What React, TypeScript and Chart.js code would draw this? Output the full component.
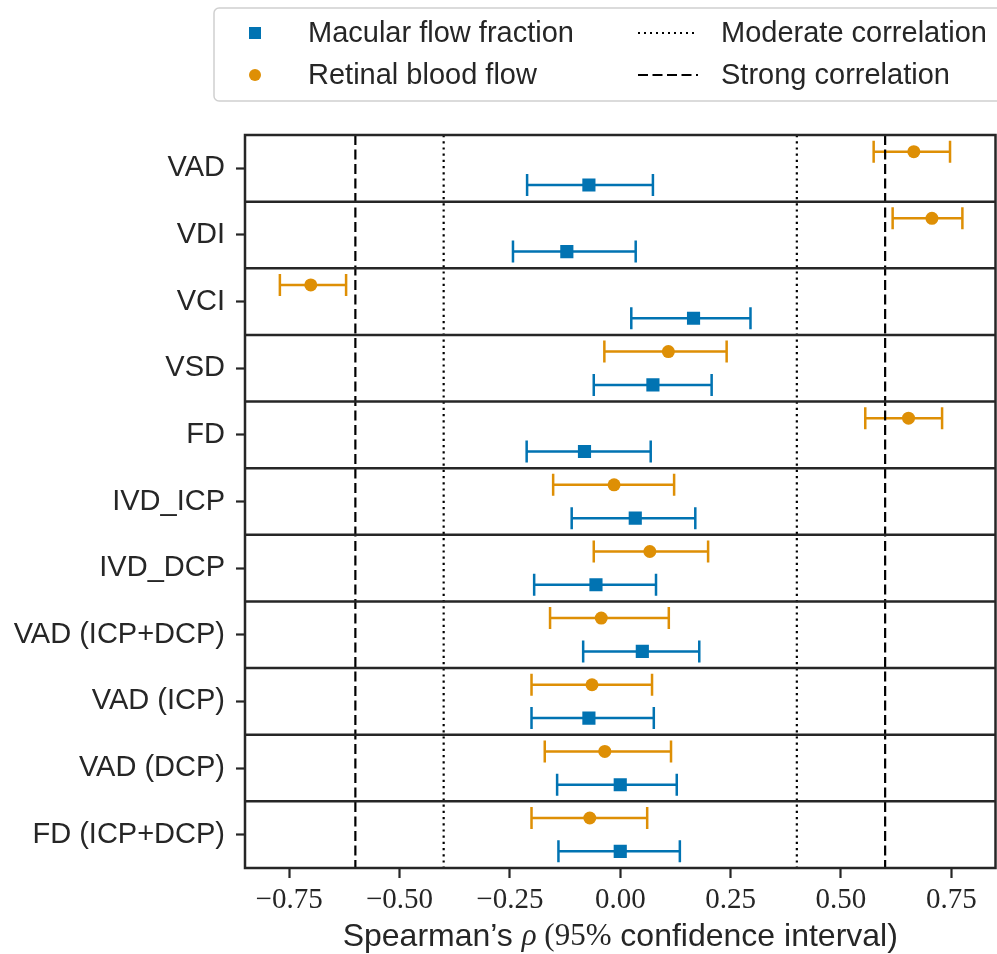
import React, { useEffect, useRef } from 'react';
import { Chart, registerables } from 'chart.js';

Chart.register(...registerables);

const categories = ['VAD', 'VDI', 'VCI', 'VSD', 'FD', 'IVD_ICP', 'IVD_DCP', 'VAD (ICP+DCP)', 'VAD (ICP)', 'VAD (DCP)', 'FD (ICP+DCP)'];
const mffRho = [-0.071, -0.121, 0.166, 0.074, -0.081, 0.034, -0.055, 0.050, -0.071, 0.000, 0.000];
const mffLo = [-0.211, -0.243, 0.025, -0.060, -0.212, -0.110, -0.195, -0.084, -0.201, -0.143, -0.140];
const mffHi = [0.074, 0.035, 0.295, 0.207, 0.069, 0.170, 0.081, 0.179, 0.076, 0.128, 0.135];
const rbfRho = [0.665, 0.706, -0.701, 0.109, 0.653, -0.014, 0.067, -0.043, -0.064, -0.035, -0.069];
const rbfLo = [0.574, 0.617, -0.771, -0.036, 0.555, -0.152, -0.060, -0.159, -0.201, -0.171, -0.201];
const rbfHi = [0.747, 0.775, -0.621, 0.241, 0.729, 0.122, 0.199, 0.110, 0.072, 0.115, 0.061];
const xTicks = [-0.75, -0.5, -0.25, 0, 0.25, 0.5, 0.75];
const moderateLines = [-0.4, 0.4];
const strongLines = [-0.6, 0.6];
const seriesLabels = ['Macular flow fraction', 'Retinal blood flow'];
const refLabels = ['Moderate correlation', 'Strong correlation'];

const BLUE = '#0173b2';
const ORANGE = '#de8f05';
const INK = '#262626';
const SANS = '"Liberation Sans", Arial, sans-serif';
const SERIF = '"Liberation Serif", "Times New Roman", serif';

export default function App() {
  const ref = useRef<HTMLCanvasElement>(null);

  useEffect(() => {
    const canvas = ref.current!;
    const off = 0.25;
    const series = [
      { label: seriesLabels[0], rho: mffRho, lo: mffLo, hi: mffHi, color: BLUE, off: off, style: 'rect', r: 9.3 },
      { label: seriesLabels[1], rho: rbfRho, lo: rbfLo, hi: rbfHi, color: ORANGE, off: -off, style: 'circle', r: 6.5 },
    ];

    const fmt = (v: number) => (v < 0 ? '\u2212' : '') + Math.abs(v).toFixed(2);

    const decor = {
      id: 'decor',
      beforeDatasetsDraw(chart: any) {
        const { ctx, scales: { x, y } } = chart;
        ctx.save();
        series.forEach((s) => {
          ctx.strokeStyle = s.color;
          ctx.lineWidth = 2.5;
          s.lo.forEach((lo, i) => {
            const yy = y.getPixelForValue(i + s.off);
            const x1 = x.getPixelForValue(lo);
            const x2 = x.getPixelForValue(s.hi[i]);
            ctx.beginPath();
            ctx.moveTo(x1, yy); ctx.lineTo(x2, yy);
            ctx.moveTo(x1, yy - 11); ctx.lineTo(x1, yy + 11);
            ctx.moveTo(x2, yy - 11); ctx.lineTo(x2, yy + 11);
            ctx.stroke();
          });
        });
        ctx.restore();
      },
      afterDatasetsDraw(chart: any) {
        const { ctx, chartArea: a, scales: { x, y } } = chart;
        ctx.save();
        ctx.strokeStyle = '#000';
        ctx.lineWidth = 2.2;
        ctx.setLineDash([2.2, 4]);
        moderateLines.forEach((v) => {
          const px = x.getPixelForValue(v);
          ctx.beginPath(); ctx.moveTo(px, a.top); ctx.lineTo(px, a.bottom); ctx.stroke();
        });
        ctx.setLineDash([10, 4.5]);
        strongLines.forEach((v) => {
          const px = x.getPixelForValue(v);
          ctx.beginPath(); ctx.moveTo(px, a.top); ctx.lineTo(px, a.bottom); ctx.stroke();
        });
        ctx.setLineDash([]);
        ctx.strokeStyle = INK;
        ctx.lineWidth = 2.5;
        for (let i = 0; i < categories.length - 1; i++) {
          const py = y.getPixelForValue(i + 0.5);
          ctx.beginPath(); ctx.moveTo(a.left, py); ctx.lineTo(a.right, py); ctx.stroke();
        }
        ctx.strokeRect(a.left, a.top, a.right - a.left, a.bottom - a.top);
        ctx.restore();
      },
      afterDraw(chart: any) {
        const { ctx } = chart;
        ctx.save();
        const bx = 214, by = 8, bw = 800, bh = 93, rr = 5;
        ctx.beginPath();
        ctx.moveTo(bx + rr, by);
        ctx.lineTo(bx + bw - rr, by);
        ctx.arcTo(bx + bw, by, bx + bw, by + rr, rr);
        ctx.lineTo(bx + bw, by + bh - rr);
        ctx.arcTo(bx + bw, by + bh, bx + bw - rr, by + bh, rr);
        ctx.lineTo(bx + rr, by + bh);
        ctx.arcTo(bx, by + bh, bx, by + bh - rr, rr);
        ctx.lineTo(bx, by + rr);
        ctx.arcTo(bx, by, bx + rr, by, rr);
        ctx.closePath();
        ctx.fillStyle = 'rgba(255,255,255,0.85)';
        ctx.fill();
        ctx.strokeStyle = '#d0d0d0';
        ctx.lineWidth = 1.5;
        ctx.stroke();

        const rowsY = [33, 75];
        ctx.font = '29px ' + SANS;
        ctx.textBaseline = 'middle';
        ctx.textAlign = 'left';
        ctx.fillStyle = BLUE;
        ctx.fillRect(255 - 6, rowsY[0] - 6, 12, 12);
        ctx.fillStyle = ORANGE;
        ctx.beginPath(); ctx.arc(255, rowsY[1], 6, 0, Math.PI * 2); ctx.fill();
        ctx.fillStyle = INK;
        seriesLabels.forEach((t, i) => ctx.fillText(t, 308, rowsY[i] + 1));
        ctx.strokeStyle = '#000';
        ctx.lineWidth = 2;
        ctx.setLineDash([2, 4]);
        ctx.beginPath(); ctx.moveTo(638, rowsY[0]); ctx.lineTo(698, rowsY[0]); ctx.stroke();
        ctx.setLineDash([10, 4.5]);
        ctx.beginPath(); ctx.moveTo(638, rowsY[1]); ctx.lineTo(698, rowsY[1]); ctx.stroke();
        ctx.setLineDash([]);
        refLabels.forEach((t, i) => ctx.fillText(t, 721, rowsY[i] + 1));

        const segs = [
          { t: 'Spearman\u2019s ', f: '32px ' + SANS },
          { t: '\u03c1', f: 'italic 31px ' + SERIF },
          { t: ' (95%', f: '31px ' + SERIF },
          { t: ' confidence interval)', f: '32px ' + SANS },
        ];
        let total = 0;
        segs.forEach((s) => { ctx.font = s.f; total += ctx.measureText(s.t).width; });
        let cx = chart.scales.x.getPixelForValue(0) - total / 2;
        const ty = 937;
        ctx.fillStyle = INK;
        ctx.textBaseline = 'middle';
        segs.forEach((s) => {
          ctx.font = s.f;
          ctx.fillText(s.t, cx, ty);
          cx += ctx.measureText(s.t).width;
        });
        ctx.restore();
      },
    };

    const chart = new Chart(canvas, {
      type: 'scatter',
      data: {
        datasets: series.map((s) => ({
          label: s.label,
          data: s.rho.map((v, i) => ({ x: v, y: i + s.off })),
          pointStyle: s.style as any,
          pointRadius: s.r,
          pointHoverRadius: s.r,
          backgroundColor: s.color,
          borderColor: s.color,
          borderWidth: 0,
          showLine: false,
        })),
      },
      options: {
        responsive: false,
        animation: false,
        events: [],
        layout: { autoPadding: false, padding: { top: 135, right: 1.5, bottom: 0, left: 0 } },
        plugins: { legend: { display: false }, tooltip: { enabled: false }, title: { display: false } },
        scales: {
          x: {
            type: 'linear',
            min: -0.85,
            max: 0.85,
            afterBuildTicks: (scale: any) => { scale.ticks = xTicks.map((v) => ({ value: v })); },
            afterFit: (scale: any) => { scale.height = 86; },
            ticks: {
              autoSkip: false,
              maxRotation: 0,
              color: INK,
              padding: 5,
              font: { family: SERIF, size: 29 },
              callback: (v: any) => fmt(Number(v)),
            },
            grid: { drawOnChartArea: false, drawTicks: true, tickLength: 10, tickWidth: 2.2, tickColor: INK },
            border: { display: false },
          },
          y: {
            type: 'linear',
            reverse: true,
            min: -0.5,
            max: categories.length - 0.5,
            afterBuildTicks: (scale: any) => { scale.ticks = categories.map((_, i) => ({ value: i })); },
            afterFit: (scale: any) => { scale.width = 245; },
            ticks: {
              autoSkip: false,
              color: INK,
              padding: 11,
              font: { family: SANS, size: 29 },
              callback: (v: any) => categories[Math.round(Number(v))] ?? '',
            },
            grid: { drawOnChartArea: false, drawTicks: true, tickLength: 9, tickWidth: 2.2, tickColor: INK },
            border: { display: false },
          },
        },
      },
      plugins: [decor],
    });
    return () => chart.destroy();
  }, []);

  return (
    <div style={{ position: 'absolute', left: 0, top: 0, width: 997, height: 954, background: '#fff' }}>
      <canvas ref={ref} width={997} height={954} style={{ width: 997, height: 954, display: 'block' }} />
    </div>
  );
}
